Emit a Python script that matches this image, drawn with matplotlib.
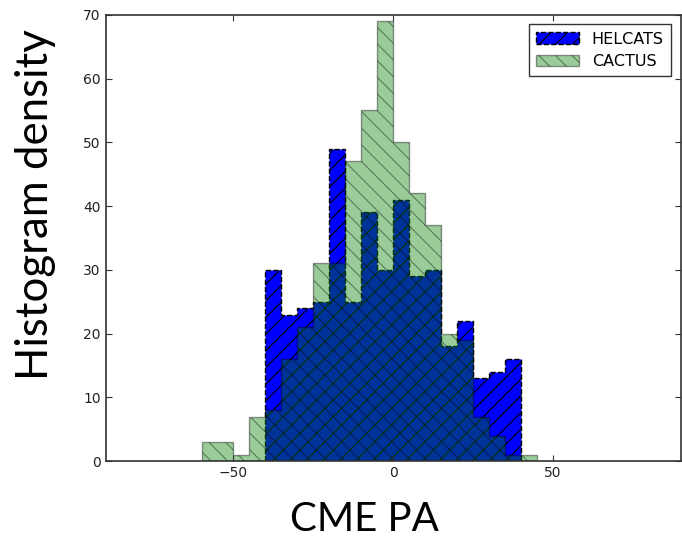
import numpy as np
import matplotlib.pyplot as plt

# bin edges (CME position angle, deg) and counts
helcats_edges = np.arange(-40, 41, 5)
helcats_counts = [30, 23, 24, 25, 49, 25, 39, 30, 41, 29, 30, 18, 22, 13, 14, 16]

cactus_edges = np.arange(-60, 46, 5)
cactus_counts = [3, 3, 1, 7, 8, 16, 21, 31, 31, 47, 55, 69, 50, 42, 37, 20, 19, 7, 4, 1, 1]

xticks = [-50, 0, 50]
yticks = [0, 10, 20, 30, 40, 50, 60, 70]

plt.rcParams["hatch.linewidth"] = 0.8

fig = plt.figure(figsize=(6.82, 5.49), dpi=100)
ax = fig.add_axes([0.155, 0.160, 0.843, 0.813])

helcats_centers = (helcats_edges[:-1] + helcats_edges[1:]) / 2
cactus_centers = (cactus_edges[:-1] + cactus_edges[1:]) / 2

ax.hist(helcats_centers, bins=helcats_edges, weights=helcats_counts,
        histtype="stepfilled", color="blue", edgecolor="black",
        linestyle="dashed", linewidth=1, hatch="//", label="HELCATS")
ax.hist(cactus_centers, bins=cactus_edges, weights=cactus_counts,
        histtype="stepfilled", facecolor="green", edgecolor="black",
        alpha=0.4, linewidth=1, hatch="\\\\", label="CACTUS")

ax.set_xlim(-90, 90)
ax.set_ylim(0, 70)
ax.set_xticks(xticks)
ax.set_yticks(yticks)
ax.tick_params(direction="in", length=4, top=True, right=True,
               labelsize=10, colors="#333333", labelcolor="#222222")
for s in ax.spines.values():
    s.set_linewidth(1.2)
    s.set_color("#333333")

leg = ax.legend(loc="upper right", fontsize=11.5, fancybox=False,
                handlelength=2.7, borderpad=0.45, labelspacing=0.45,
                borderaxespad=0.6)
leg.get_frame().set_edgecolor("black")
leg.get_frame().set_linewidth(1)

# big axis titles placed on the figure
fig.text(0.052, 0.628, "Histogram density", rotation=90, fontsize=31.5,
         family="Lato", ha="center", va="center")
fig.text(0.535, 0.053, "CME PA", fontsize=29, family="Lato",
         ha="center", va="center")

fig.savefig("out.png", dpi=100)
